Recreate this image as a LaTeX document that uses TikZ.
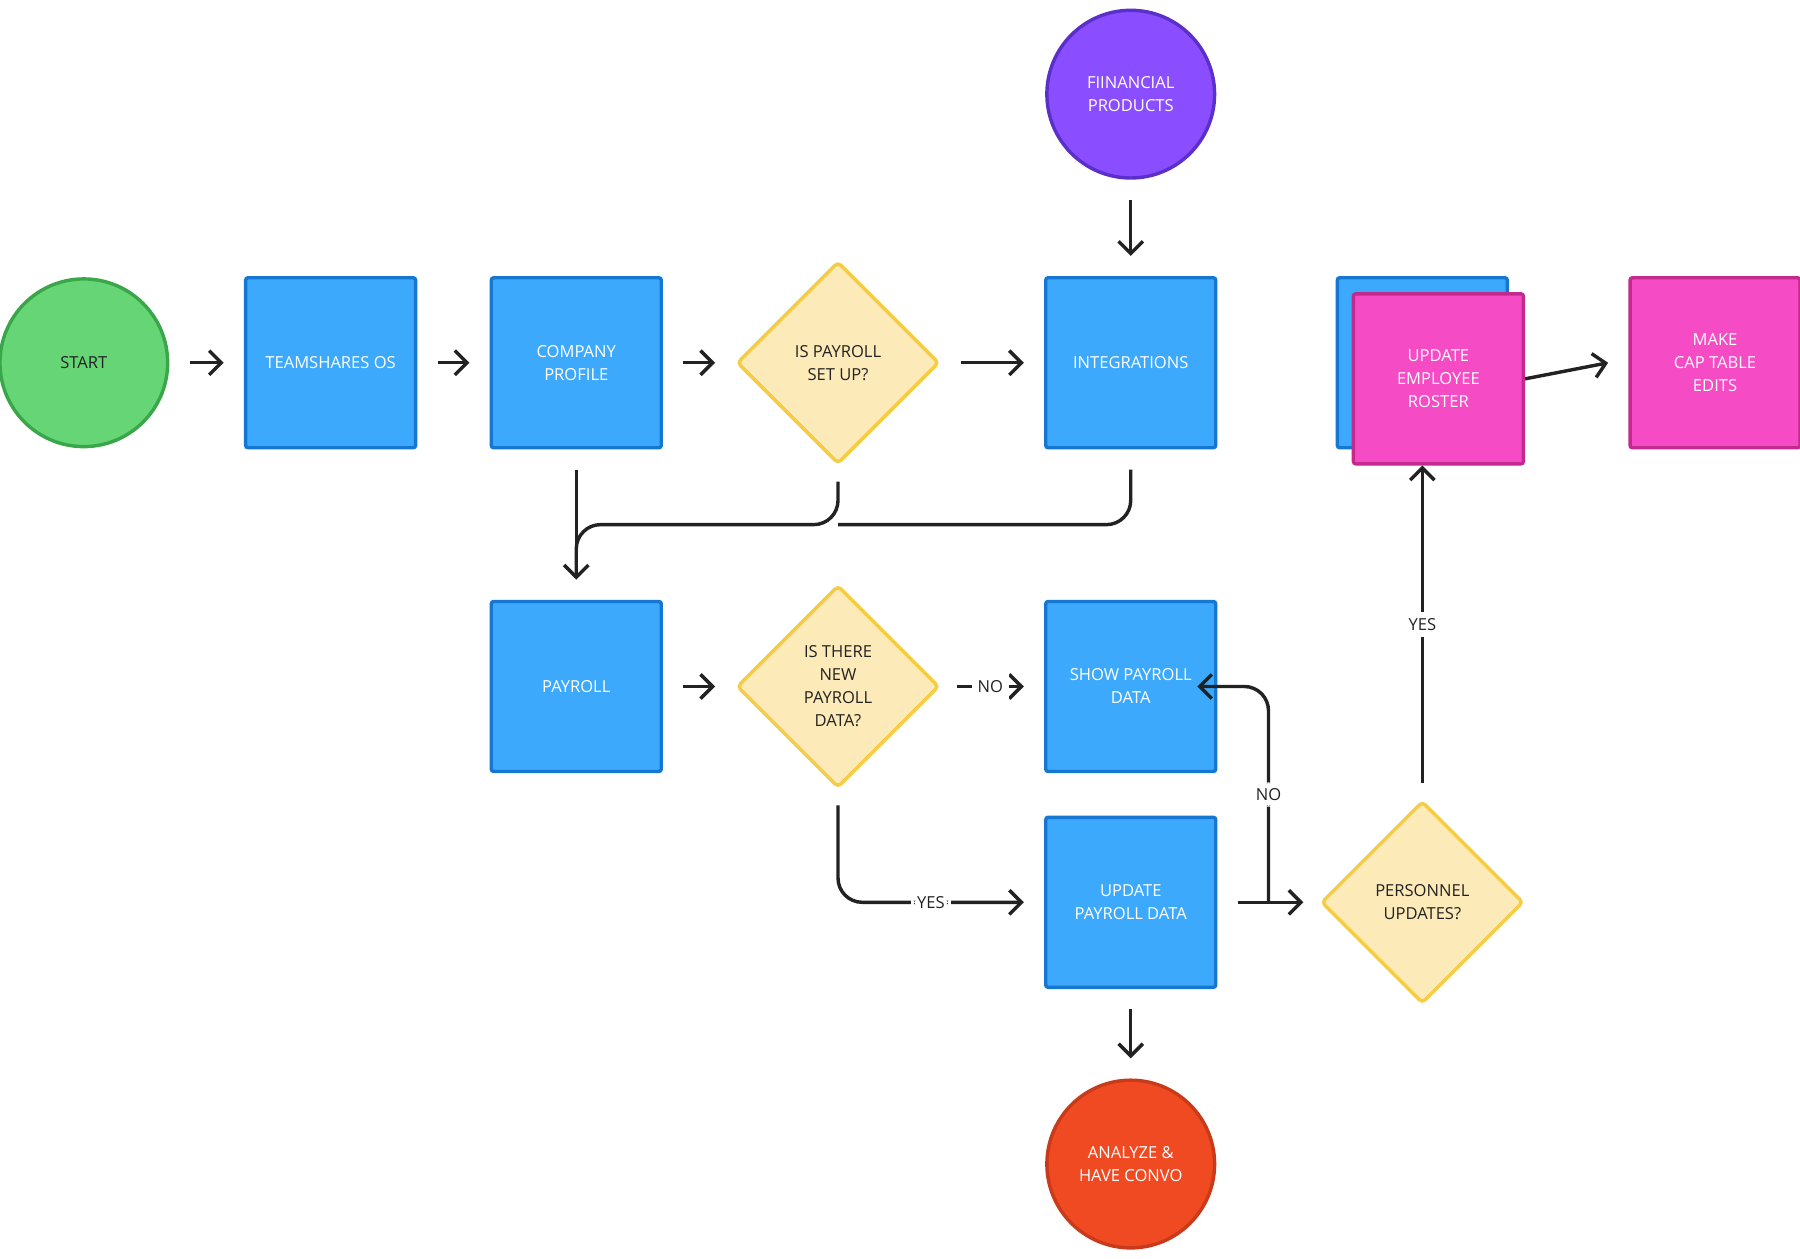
\documentclass[tikz,border=0pt]{standalone}
\usepackage{fontspec}
\setmainfont{Open Sans}
\usetikzlibrary{shapes.geometric,arrows.meta}
\definecolor{bfill}{HTML}{3DA9FC}\definecolor{bline}{HTML}{1677D2}
\definecolor{yfill}{HTML}{FCEBB8}\definecolor{yline}{HTML}{F7CC45}
\definecolor{pfill}{HTML}{F54BC4}\definecolor{pline}{HTML}{C42A8E}
\definecolor{gfill}{HTML}{66D575}\definecolor{gline}{HTML}{3AA64A}
\definecolor{vfill}{HTML}{8A4DFF}\definecolor{vline}{HTML}{5B2FC9}
\definecolor{rfill}{HTML}{F04A23}\definecolor{rline}{HTML}{C93A1A}
\definecolor{ink}{HTML}{222222}
\begin{document}
\begin{tikzpicture}[x=0.01cm,y=-0.01cm,
  every node/.style={font=\fontsize{4.1}{5.7}\selectfont, align=center},
  box/.style={draw=bline,fill=bfill,line width=0.85pt,rounded corners=0.6pt,minimum size=1.48cm,inner sep=0,text=white},
  pbox/.style={box,draw=pline,fill=pfill},
  dia/.style={diamond,draw=yline,fill=yfill,line width=0.85pt,rounded corners=1pt,minimum size=1.76cm,inner sep=0,text=ink,aspect=1},
  circ/.style={circle,line width=0.85pt,minimum size=1.46cm,inner sep=0,text=white},
  arr/.style={draw=ink,line width=0.85pt,-{Straight Barb[length=3pt,width=6pt]}},
  ln/.style={draw=ink,line width=0.85pt},
  lab/.style={fill=white,inner sep=1.5pt,text=ink}]
\useasboundingbox (0,0) rectangle (1568,1096);
\node[circ,draw=gline,fill=gfill,text=ink] (start) at (73,316) {START};
\node[box] (os) at (288,316) {TEAMSHARES OS};
\node[box] (cp) at (502,316) {COMPANY\\PROFILE};
\node[dia] (d1) at (730,316) {IS PAYROLL\\SET UP?};
\node[box] (int) at (985,316) {INTEGRATIONS};
\node[circ,draw=vline,fill=vfill] (fin) at (985,82) {FIINANCIAL\\PRODUCTS};
\node[box] (back) at (1239,316) {};
\node[pbox] (ros) at (1253,330) {UPDATE\\EMPLOYEE\\ROSTER};
\node[pbox] (cap) at (1494,316) {MAKE\\CAP TABLE\\EDITS};
\node[box] (pay) at (502,598) {PAYROLL};
\node[dia] (d2) at (730,598) {IS THERE\\NEW\\PAYROLL\\DATA?};
\node[box] (show) at (985,598) {SHOW PAYROLL\\DATA};
\node[box] (upd) at (985,786) {UPDATE\\PAYROLL DATA};
\node[dia] (d3) at (1239,786) {PERSONNEL\\UPDATES?};
\node[circ,draw=rline,fill=rfill] (ana) at (985,1014) {ANALYZE \&\\HAVE CONVO};
\coordinate (m) at (1105,786);
\draw[arr] ([xshift=5pt]start.east) -- ([xshift=-5pt]os.west);
\draw[arr] ([xshift=5pt]os.east) -- ([xshift=-5pt]cp.west);
\draw[arr] ([xshift=5pt]cp.east) -- ([xshift=-5pt]d1.west);
\draw[arr] ([xshift=5pt]d1.east) -- ([xshift=-5pt]int.west);
\draw[arr] ([yshift=-5pt]fin.south) -- ([yshift=5pt]int.north);
\draw[arr] ([yshift=-5pt]cp.south) -- ([yshift=5pt]pay.north);
\draw[ln,rounded corners=6pt] ([yshift=-4pt]d1.south) |- (502,457) -- (502,500);
\draw[ln,rounded corners=6pt] ([yshift=-5pt]int.south) |- (730,457);
\draw[arr] ([xshift=5pt]pay.east) -- ([xshift=-5pt]d2.west);
\draw[arr] ([xshift=4pt]d2.east) -- node[lab]{NO} ([xshift=-5pt]show.west);
\draw[arr,rounded corners=6pt] ([yshift=-4pt]d2.south) |- node[lab,pos=0.75]{YES} ([xshift=-5pt]upd.west);
\draw[arr] ([xshift=5pt]upd.east) -- ([xshift=-4pt]d3.west);
\draw[arr,rounded corners=6pt] (m) |- node[lab,pos=0.25]{NO} ([xshift=-5pt]show.east);
\draw[arr] ([yshift=4pt]d3.north) -- node[lab]{YES} (ros.south -| d3.north);
\draw[arr] ([xshift=0pt]ros.east) -- ([xshift=-5pt]cap.west);
\draw[arr] ([yshift=-5pt]upd.south) -- ([yshift=5pt]ana.north);
\end{tikzpicture}
\end{document}
